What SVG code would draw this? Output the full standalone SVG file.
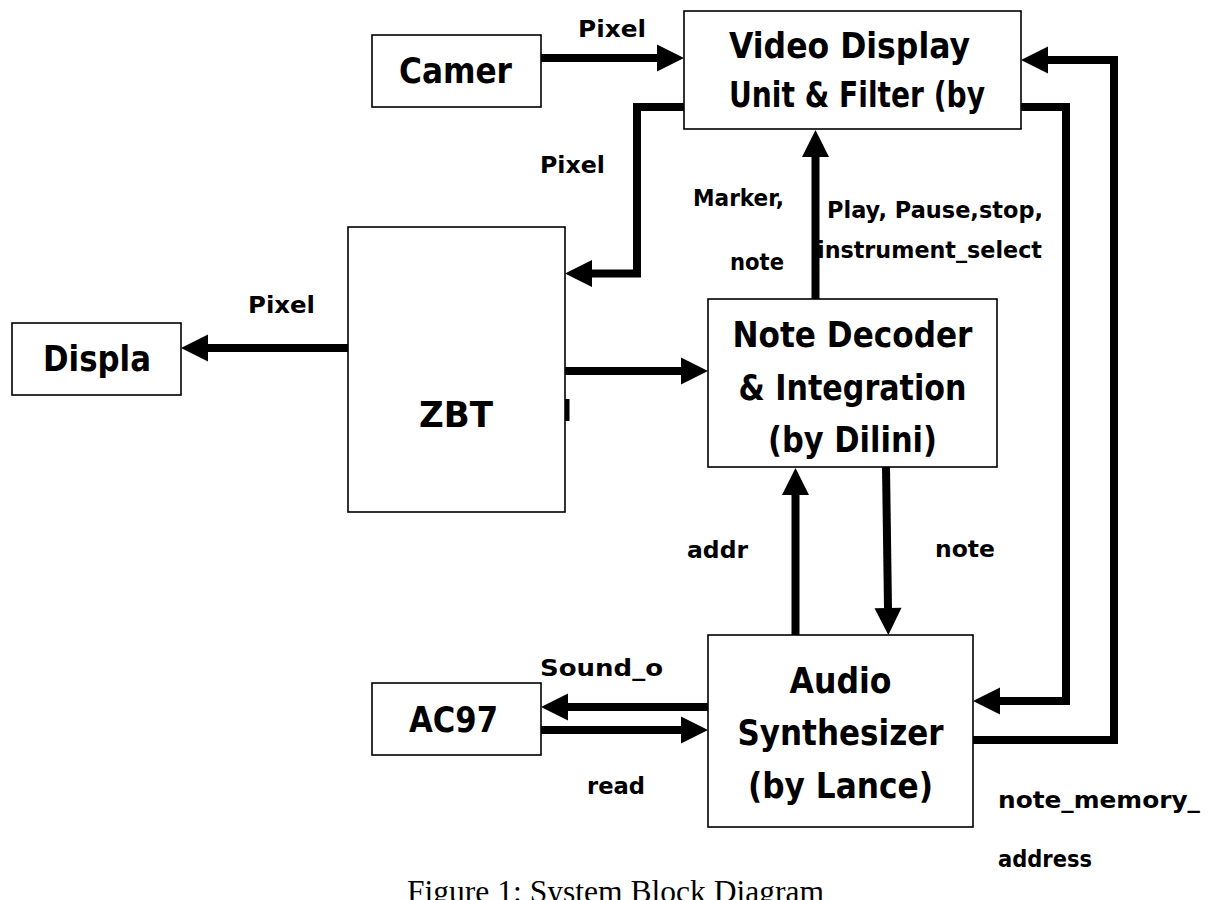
<svg xmlns="http://www.w3.org/2000/svg" width="1209" height="900" viewBox="0 0 1209 900">
  <style>
    .box { fill: #ffffff; stroke: #000000; stroke-width: 1.6; }
    .big { font-family: "DejaVu Sans", "Liberation Sans", sans-serif; font-weight: bold; font-size: 35px; fill: #000000; }
    .lbl { font-family: "DejaVu Sans", "Liberation Sans", sans-serif; font-weight: bold; font-size: 23px; fill: #000000; }
    .cap { font-family: "Liberation Serif", "Times New Roman", serif; font-size: 31px; fill: #000000; }
    .wire { fill: none; stroke: #000000; stroke-width: 8; stroke-linejoin: miter; stroke-linecap: butt; marker-end: url(#head); }
  </style>
  <defs>
    <!-- solid triangular head, drawn forward from the end of the wire -->
    <marker id="head" markerUnits="userSpaceOnUse" viewBox="0 0 27 27" markerWidth="27" markerHeight="27" refX="0" refY="13.5" orient="auto" overflow="visible">
      <path d="M0,0 L27,13.5 L0,27 Z" fill="#000000"/>
    </marker>
  </defs>

  <rect width="1209" height="900" fill="#ffffff"/>

  <!-- blocks -->
  <g id="camera">
    <rect class="box" x="372" y="35" width="169" height="72"/>
    <text class="big" x="399" y="83" textLength="113" lengthAdjust="spacingAndGlyphs">Camer</text>
  </g>
  <g id="video-display-unit">
    <rect class="box" x="684" y="11" width="337" height="118"/>
    <text class="big" x="729" y="58" textLength="241" lengthAdjust="spacingAndGlyphs">Video Display</text>
    <text class="big" x="729" y="107" textLength="256" lengthAdjust="spacingAndGlyphs">Unit &amp; Filter (by</text>
  </g>
  <g id="zbt">
    <rect class="box" x="348" y="227" width="217" height="285"/>
    <text class="big" x="456" y="427" text-anchor="middle" textLength="74" lengthAdjust="spacingAndGlyphs">ZBT</text>
    <rect x="565" y="399" width="4.5" height="22" fill="#000000"/>
  </g>
  <g id="display">
    <rect class="box" x="12" y="323" width="169" height="72"/>
    <text class="big" x="43" y="371" textLength="108" lengthAdjust="spacingAndGlyphs">Displa</text>
  </g>
  <g id="note-decoder">
    <rect class="box" x="708" y="299" width="289" height="168"/>
    <text class="big" x="852.5" y="347" text-anchor="middle" textLength="240" lengthAdjust="spacingAndGlyphs">Note Decoder</text>
    <text class="big" x="852.5" y="400" text-anchor="middle" textLength="228" lengthAdjust="spacingAndGlyphs">&amp; Integration</text>
    <text class="big" x="852.5" y="452" text-anchor="middle" textLength="169" lengthAdjust="spacingAndGlyphs">(by Dilini)</text>
  </g>
  <g id="audio-synthesizer">
    <rect class="box" x="708" y="635" width="265" height="192"/>
    <text class="big" x="840.5" y="693" text-anchor="middle" textLength="102" lengthAdjust="spacingAndGlyphs">Audio</text>
    <text class="big" x="840.5" y="745" text-anchor="middle" textLength="206" lengthAdjust="spacingAndGlyphs">Synthesizer</text>
    <text class="big" x="840.5" y="798" text-anchor="middle" textLength="185" lengthAdjust="spacingAndGlyphs">(by Lance)</text>
  </g>
  <g id="ac97">
    <rect class="box" x="372" y="683" width="169" height="72"/>
    <text class="big" x="409" y="732" textLength="89" lengthAdjust="spacingAndGlyphs">AC97</text>
  </g>

  <!-- connectors -->
  <g id="connectors">
    <path class="wire" d="M541,58 H657"/>
    <path class="wire" d="M684,107 H637 V273.5 H592"/>
    <path class="wire" d="M348,348 H208"/>
    <path class="wire" d="M565,371 H681"/>
    <path class="wire" d="M815.5,299 V157"/>
    <path class="wire" d="M795.5,635 V495"/>
    <path class="wire" d="M886,467 L888,608"/>
    <path class="wire" d="M708,707 H568"/>
    <path class="wire" d="M541,730 H681"/>
    <path class="wire" d="M1021,107 H1066 V701 H1000"/>
    <path class="wire" d="M973,740 H1114 V60 H1048"/>
  </g>

  <!-- signal labels -->
  <g id="labels">
    <text class="lbl" x="578" y="37" textLength="68" lengthAdjust="spacingAndGlyphs">Pixel</text>
    <text class="lbl" x="540" y="173" textLength="65" lengthAdjust="spacingAndGlyphs">Pixel</text>
    <text class="lbl" x="248" y="313" textLength="67" lengthAdjust="spacingAndGlyphs">Pixel</text>
    <text class="lbl" x="693" y="206" textLength="91" lengthAdjust="spacingAndGlyphs">Marker,</text>
    <text class="lbl" x="730" y="270" textLength="54" lengthAdjust="spacingAndGlyphs">note</text>
    <text class="lbl" x="827" y="218" textLength="216" lengthAdjust="spacingAndGlyphs">Play, Pause,stop,</text>
    <text class="lbl" x="817" y="258" textLength="225" lengthAdjust="spacingAndGlyphs">instrument_select</text>
    <text class="lbl" x="687" y="558" textLength="61" lengthAdjust="spacingAndGlyphs">addr</text>
    <text class="lbl" x="935" y="557" textLength="60" lengthAdjust="spacingAndGlyphs">note</text>
    <text class="lbl" x="540" y="676" textLength="123" lengthAdjust="spacingAndGlyphs">Sound_o</text>
    <text class="lbl" x="587" y="794" textLength="58" lengthAdjust="spacingAndGlyphs">read</text>
    <text class="lbl" x="998" y="808" textLength="202" lengthAdjust="spacingAndGlyphs">note_memory_</text>
    <text class="lbl" x="998" y="867" textLength="94" lengthAdjust="spacingAndGlyphs">address</text>
  </g>

  <text class="cap" x="407" y="902" textLength="417" lengthAdjust="spacingAndGlyphs">Figure 1: System Block Diagram</text>
</svg>
